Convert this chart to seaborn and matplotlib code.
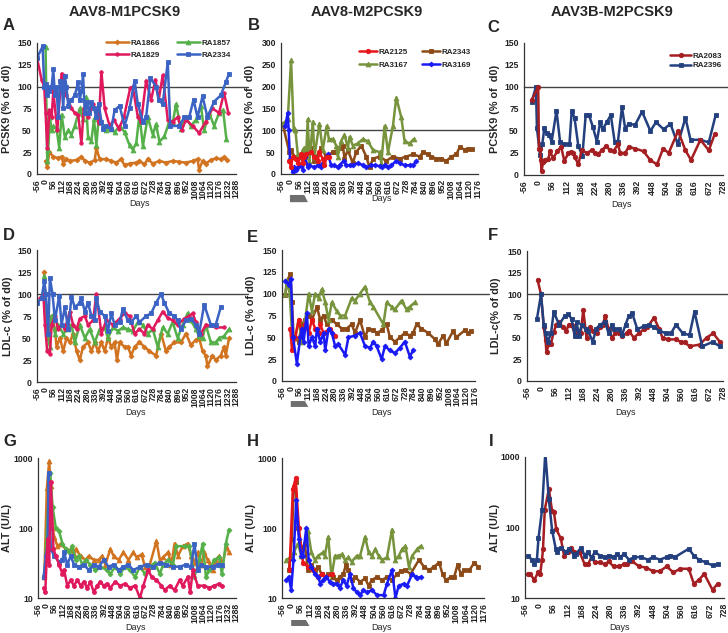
import numpy as np
import matplotlib
matplotlib.use('Agg')
import matplotlib.pyplot as plt
from matplotlib.patches import Polygon
from matplotlib.ticker import NullLocator
import seaborn as sns

# ---------------- Panel A: PCSK9 (% of d0), AAV8-M1PCSK9
a_days_1866 = [2, 13, 27, 54, 87, 110, 121, 143, 166, 211, 244, 267, 300, 334, 345, 367, 412, 446, 479, 513,
               535, 569, 614, 636, 670, 692, 726, 771, 815, 860, 905, 950, 995, 1028, 1039, 1062, 1084, 1118, 1151, 1185,
               1207, 1230]
a_vals_1866 = [15, 8, 25, 20, 18, 20, 12, 17, 15, 16, 20, 15, 13, 16, 30, 17, 17, 15, 13, 17,
               10, 12, 13, 15, 11, 17, 12, 15, 13, 15, 14, 13, 15, 17, 5, 15, 12, 16, 18, 17,
               19, 16]
a_days_1857 = [2, 13, 20, 31, 43, 54, 76, 94, 110, 132, 155, 177, 199, 233, 255, 273, 289, 311, 329, 345,
               361, 379, 412, 446, 468, 502, 535, 569, 591, 614, 636, 659, 692, 726, 748, 771, 804, 838, 860, 883,
               916, 950, 983, 1017, 1051, 1073, 1107, 1140, 1174, 1201, 1223]
a_vals_1857 = [145, 15, 28, 65, 50, 55, 52, 30, 68, 42, 50, 45, 55, 75, 63, 88, 42, 38, 63, 33,
               65, 60, 50, 52, 48, 55, 48, 33, 28, 35, 68, 32, 65, 45, 57, 37, 43, 60, 58, 80,
               52, 65, 55, 62, 78, 50, 70, 55, 70, 73, 40]
a_days_1829 = [-56, -25, -7, 2, 13, 27, 43, 54, 81, 110, 143, 177, 199, 222, 244, 260, 289, 323, 345, 361,
               379, 401, 435, 464, 497, 531, 573, 591, 625, 647, 681, 715, 744, 766, 793, 827, 860, 894, 921, 950,
               995, 1039, 1084, 1129, 1174, 1207, 1236]
a_vals_1829 = [133, 108, 100, 70, 30, 73, 65, 95, 50, 115, 90, 75, 70, 68, 35, 75, 65, 80, 70, 58,
               117, 75, 55, 62, 52, 65, 98, 100, 65, 60, 107, 85, 108, 85, 113, 62, 60, 65, 50, 62,
               55, 47, 60, 75, 70, 93, 70]
a_days_2334 = [-56, -18, -7, 2, 9, 16, 27, 43, 54, 65, 76, 87, 99, 110, 121, 132, 143, 155, 177, 199,
               222, 233, 244, 255, 267, 282, 296, 311, 329, 345, 361, 379, 390, 412, 446, 468, 502, 535, 569, 603,
               625, 659, 681, 710, 748, 766, 793, 827, 844, 905, 939, 972, 1001, 1028, 1062, 1095, 1140, 1185, 1219, 1241]
a_vals_2334 = [133, 146, 100, 103, 90, 100, 95, 100, 120, 90, 100, 65, 107, 105, 75, 112, 100, 78, 85, 90,
               105, 85, 95, 114, 70, 82, 70, 82, 75, 65, 80, 60, 52, 55, 52, 73, 78, 55, 75, 107,
               80, 60, 65, 110, 100, 85, 80, 128, 55, 55, 65, 65, 85, 65, 89, 65, 83, 90, 105, 115]

# ---------------- Panel B: PCSK9 (% of d0), AAV8-M2PCSK9
b_days_2125 = [-4, 7, 17, 38, 49, 69, 80, 90, 101, 132, 153, 174, 184, 205, 216, 230, 247]
b_vals_2125 = [30, 15, 40, 35, 25, 45, 25, 40, 45, 50, 40, 30, 50, 35, 20, 40, 40]
b_days_2343 = [-46, -4, 7, 28, 49, 90, 132, 153, 195, 226, 268, 289, 310, 331, 341, 362, 393, 414, 446, 477,
               498, 519, 561, 602, 644, 686, 728, 770, 811, 832, 864, 885, 916, 947, 978, 1010, 1041, 1062, 1094, 1115,
               1140]
b_vals_2343 = [115, 50, 55, 40, 40, 45, 60, 30, 60, 40, 50, 50, 60, 65, 35, 55, 25, 50, 65, 40,
               15, 35, 40, 30, 40, 35, 40, 45, 40, 50, 45, 40, 35, 35, 30, 40, 45, 62, 55, 58,
               57]
b_days_3167 = [-46, -14, 7, 23, 34, 49, 69, 80, 90, 101, 111, 122, 143, 153, 184, 205, 230, 243, 268, 289,
               299, 320, 341, 362, 373, 393, 425, 456, 487, 519, 561, 571, 592, 613, 644, 665, 696, 717, 749, 774]
b_vals_3167 = [115, 125, 260, 105, 100, 45, 40, 55, 60, 40, 125, 30, 120, 40, 115, 55, 110, 80, 80, 65,
               40, 75, 90, 60, 85, 65, 70, 80, 75, 55, 50, 25, 110, 50, 110, 175, 130, 75, 70, 80]
b_days_3169 = [-29, -14, -8, 0, 17, 23, 38, 49, 69, 80, 94, 111, 122, 153, 174, 184, 195, 205, 237, 258,
               278, 299, 310, 335, 352, 373, 393, 425, 456, 477, 508, 529, 561, 577, 592, 613, 634, 665, 686, 717,
               749, 770, 790]
b_vals_3169 = [110, 140, 100, 35, 5, 15, 10, 15, 20, 10, 40, 15, 20, 15, 20, 20, 15, 25, 45, 20,
               20, 15, 20, 30, 20, 20, 20, 25, 20, 15, 20, 20, 18, 15, 20, 15, 20, 30, 25, 20,
               20, 20, 30]

# ---------------- Panel C: PCSK9 (% of d0), AAV3B-M2PCSK9
c_days_2083 = [-26, 0, 3, 8, 10, 13, 20, 26, 40, 46, 59, 75, 90, 103, 119, 129, 138, 145, 158, 171,
               191, 211, 224, 237, 250, 268, 283, 297, 314, 323, 343, 356, 382, 415, 441, 468, 492, 514, 551, 580,
               602, 639, 672, 696]
c_vals_2083 = [85, 100, 30, 30, 17, 5, 15, 17, 18, 27, 19, 27, 32, 16, 25, 26, 25, 20, 12, 28,
               25, 28, 25, 24, 28, 33, 28, 27, 35, 25, 25, 32, 30, 27, 17, 12, 30, 25, 50, 28,
               17, 40, 28, 47]
c_days_2396 = [-26, -9, -5, 7, 16, 24, 33, 43, 53, 72, 86, 103, 123, 132, 143, 158, 174, 187, 200, 215,
               231, 244, 254, 270, 286, 301, 314, 330, 343, 356, 382, 409, 442, 464, 494, 521, 550, 580, 600, 639,
               672, 699]
c_vals_2396 = [83, 100, 53, 23, 35, 53, 48, 45, 38, 73, 38, 35, 35, 73, 65, 33, 22, 68, 68, 55,
               38, 60, 52, 60, 68, 38, 38, 77, 52, 58, 57, 72, 50, 60, 52, 58, 35, 65, 40, 40,
               37, 68]

# ---------------- Panel D: LDL-c (% of d0), AAV8-M1PCSK9
d_days_1866 = [-9, 4, 20, 43, 65, 76, 99, 121, 143, 166, 188, 211, 233, 255, 289, 311, 334, 356, 379, 401,
               423, 446, 468, 484, 502, 535, 558, 580, 603, 636, 670, 703, 748, 782, 815, 838, 871, 916, 950, 983,
               1017, 1039, 1062, 1084, 1095, 1129, 1151, 1185, 1207, 1219, 1241]
d_vals_1866 = [125, 85, 50, 75, 60, 40, 50, 35, 50, 45, 55, 35, 25, 40, 45, 35, 45, 35, 45, 35,
               50, 40, 45, 25, 45, 40, 40, 30, 40, 45, 40, 35, 30, 55, 35, 40, 45, 45, 55, 42,
               48, 50, 35, 30, 18, 30, 25, 30, 40, 30, 50]
d_days_1857 = [-7, 9, 31, 43, 65, 87, 121, 155, 177, 199, 233, 267, 300, 334, 367, 401, 423, 457, 491, 524,
               558, 591, 625, 659, 692, 726, 759, 793, 827, 860, 894, 927, 961, 983, 1017, 1039, 1062, 1084, 1118, 1151,
               1174, 1207, 1241]
d_vals_1857 = [120, 55, 40, 75, 55, 65, 55, 60, 65, 45, 65, 50, 60, 45, 60, 62, 50, 62, 58, 62,
               60, 58, 68, 65, 55, 60, 40, 62, 55, 68, 50, 65, 78, 70, 60, 52, 50, 65, 45, 45,
               50, 52, 60]
d_days_1829 = [-36, -13, -2, 13, 31, 43, 65, 87, 110, 132, 166, 188, 211, 233, 267, 289, 323, 345, 379, 412,
               457, 502, 535, 569, 603, 636, 670, 692, 726, 759, 793, 827, 860, 894, 939, 972, 995, 1017, 1051, 1084,
               1151, 1207]
d_vals_1829 = [95, 100, 65, 35, 32, 65, 75, 60, 65, 60, 80, 65, 60, 72, 75, 65, 70, 100, 55, 70,
               65, 72, 78, 75, 55, 60, 55, 65, 60, 70, 80, 73, 70, 65, 72, 75, 78, 68, 55, 65,
               62, 62]
d_days_2334 = [-56, -25, -7, 4, 20, 31, 49, 65, 94, 110, 132, 155, 177, 199, 233, 244, 267, 289, 311, 334,
               345, 367, 401, 423, 446, 468, 502, 524, 558, 580, 614, 636, 681, 715, 748, 782, 804, 838, 871, 894,
               916, 950, 983, 1017, 1039, 1073, 1118, 1151, 1185]
d_vals_2334 = [90, 95, 115, 100, 55, 118, 100, 70, 98, 65, 85, 60, 97, 85, 90, 95, 80, 90, 75, 70,
               95, 80, 75, 58, 78, 65, 68, 83, 70, 68, 75, 68, 75, 78, 90, 100, 90, 78, 75, 70,
               60, 70, 72, 65, 55, 88, 65, 65, 85]

# ---------------- Panel E: LDL-c (% of d0), AAV8-M2PCSK9
e_days_2125 = [-3, 8, 29, 50, 71, 92, 114, 135, 156, 177, 188, 209, 251, 283]
e_vals_2125 = [60, 35, 50, 70, 55, 65, 55, 70, 60, 55, 65, 55, 60, 52]
e_days_2343 = [-35, -24, -3, 8, 18, 50, 71, 92, 114, 135, 167, 188, 209, 230, 262, 294, 326, 357, 389, 410,
               442, 474, 495, 527, 548, 580, 612, 633, 665, 697, 728, 760, 781, 803, 834, 877, 919, 940, 972, 993,
               1036, 1057, 1110, 1130, 1150]
e_vals_2343 = [98, 115, 122, 90, 50, 45, 65, 70, 75, 70, 85, 70, 75, 65, 70, 65, 60, 60, 65, 55,
               70, 50, 60, 58, 55, 58, 65, 50, 45, 50, 55, 52, 55, 65, 60, 55, 48, 42, 52, 43,
               57, 50, 58, 55, 57]
e_days_3167 = [-35, -24, -7, 8, 29, 50, 71, 92, 114, 135, 156, 177, 198, 220, 241, 262, 294, 315, 347, 389,
               410, 442, 474, 506, 527, 591, 612, 644, 665, 707, 739, 760, 792]
e_vals_3167 = [100, 115, 100, 55, 50, 70, 45, 70, 100, 80, 100, 95, 105, 90, 70, 90, 80, 75, 75, 95,
               92, 100, 108, 90, 85, 65, 90, 85, 82, 92, 82, 85, 90]
e_days_3169 = [-35, -14, 1, 14, 39, 61, 71, 82, 103, 114, 135, 156, 167, 188, 209, 220, 241, 262, 283, 304,
               347, 368, 410, 442, 474, 506, 527, 548, 580, 601, 633, 665, 697, 728, 760, 781]
e_vals_3169 = [115, 110, 117, 50, 20, 50, 60, 45, 78, 40, 50, 40, 60, 45, 55, 35, 60, 55, 40, 42,
               30, 50, 52, 55, 40, 38, 45, 40, 25, 40, 35, 32, 38, 45, 28, 35]

# ---------------- Panel F: LDL-c (% of d0), AAV3B-M2PCSK9
f_days_2083 = [-14, 0, 11, 18, 22, 31, 40, 51, 61, 72, 88, 101, 111, 122, 135, 149, 159, 169, 182, 196,
               209, 223, 236, 247, 257, 270, 284, 297, 311, 324, 344, 351, 371, 392, 412, 425, 452, 473, 486, 506,
               540, 560, 574, 594, 635, 662, 689, 716]
f_vals_2083 = [117, 100, 62, 47, 33, 43, 43, 57, 65, 68, 62, 58, 65, 65, 55, 58, 55, 82, 50, 62,
               58, 55, 62, 65, 75, 60, 50, 55, 55, 52, 55, 58, 50, 55, 60, 62, 73, 60, 50, 48,
               48, 45, 45, 40, 42, 50, 55, 45]
f_days_2396 = [-16, 0, 11, 18, 27, 40, 51, 72, 95, 108, 122, 135, 142, 153, 162, 178, 189, 207, 220, 236,
               257, 270, 284, 290, 311, 324, 338, 351, 365, 385, 412, 432, 452, 473, 500, 520, 540, 567, 594, 614,
               645, 686, 716]
f_vals_2396 = [72, 100, 65, 55, 45, 55, 80, 65, 75, 77, 72, 52, 68, 52, 65, 60, 58, 45, 60, 65,
               68, 55, 65, 60, 60, 53, 65, 75, 78, 60, 63, 65, 62, 58, 55, 55, 65, 55, 53, 80,
               40, 45, 40]

# ---------------- Panel G: ALT (U/L), AAV8-M1PCSK9
g_days_1866 = [-13, 4, 20, 31, 43, 54, 76, 99, 132, 166, 188, 199, 233, 267, 289, 323, 356, 379, 401, 435,
               457, 491, 524, 558, 591, 614, 647, 670, 703, 748, 771, 793, 827, 849, 871, 894, 927, 961, 983, 1006,
               1028, 1051, 1073, 1095, 1129, 1151, 1174, 1196, 1223, 1241]
g_vals_1866 = [20, 370, 900, 400, 100, 75, 55, 60, 50, 48, 42, 50, 40, 35, 40, 35, 35, 40, 30, 50,
               40, 35, 45, 35, 45, 38, 42, 28, 30, 65, 35, 38, 45, 30, 60, 40, 55, 60, 40, 32,
               45, 30, 45, 35, 25, 35, 40, 30, 55, 45]
g_days_1857 = [-13, 9, 27, 43, 65, 87, 110, 132, 155, 177, 199, 222, 244, 267, 300, 334, 367, 412, 435, 468,
               502, 535, 569, 603, 636, 670, 703, 737, 771, 793, 827, 860, 883, 939, 972, 1006, 1039, 1062, 1084, 1107,
               1140, 1174, 1192, 1219, 1241]
g_vals_1857 = [20, 140, 620, 200, 100, 90, 60, 50, 45, 55, 35, 40, 30, 35, 30, 25, 28, 25, 22, 28,
               22, 28, 25, 20, 28, 22, 28, 32, 22, 30, 35, 30, 55, 55, 55, 20, 35, 60, 20, 25,
               35, 38, 22, 60, 95]
g_days_1829 = [-18, -7, 9, 20, 31, 49, 65, 87, 110, 121, 143, 166, 188, 211, 233, 255, 278, 300, 323, 345,
               367, 390, 412, 435, 468, 502, 535, 569, 603, 636, 659, 692, 715, 748, 782, 804, 838, 871, 905, 927,
               961, 977, 995, 1028, 1073, 1107, 1140, 1174, 1192]
g_vals_1829 = [14, 12, 70, 30, 450, 50, 40, 30, 22, 25, 15, 18, 15, 18, 15, 17, 14, 17, 12, 15,
               17, 15, 16, 14, 17, 15, 16, 14, 15, 10, 15, 25, 20, 18, 15, 13, 15, 13, 18, 15,
               20, 12, 25, 15, 15, 14, 15, 16, 15]
g_days_2334 = [-18, -2, 9, 16, 27, 31, 54, 87, 110, 121, 143, 166, 188, 222, 255, 289, 323, 356, 390, 423,
               457, 491, 524, 558, 591, 636, 681, 726, 771, 815, 860, 905, 950, 983, 1006, 1028, 1051, 1084, 1129, 1163,
               1192]
g_vals_2334 = [20, 40, 60, 620, 100, 50, 40, 33, 35, 45, 30, 40, 30, 28, 30, 25, 30, 28, 35, 28,
               30, 25, 28, 30, 25, 28, 30, 28, 32, 30, 28, 28, 30, 28, 60, 25, 30, 28, 28, 30,
               30]

# ---------------- Panel H: ALT (U/L), AAV8-M2PCSK9
h_days_2125 = [-10, 10, 27, 47, 72, 103, 133, 164, 185, 215, 246]
h_vals_2125 = [25, 360, 510, 100, 32, 28, 25, 20, 22, 20, 22]
h_days_2343 = [-14, 4, 16, 27, 41, 62, 82, 103, 123, 144, 164, 185, 205, 226, 256, 277, 297, 318, 334, 349,
               369, 390, 420, 451, 472, 492, 523, 554, 584, 615, 646, 667, 697, 728, 779, 810, 841, 871, 902, 923,
               943, 974, 994, 1015, 1035, 1056, 1087, 1117, 1138]
h_vals_2343 = [25, 70, 380, 450, 100, 50, 60, 25, 30, 25, 28, 22, 20, 22, 20, 18, 20, 22, 30, 25,
               18, 20, 17, 19, 15, 18, 20, 18, 20, 18, 22, 24, 25, 22, 35, 28, 25, 28, 32, 22,
               18, 20, 20, 30, 22, 25, 25, 32, 28]
h_days_3167 = [-31, 0, 16, 41, 62, 82, 103, 123, 144, 164, 195, 205, 226, 246, 267, 287, 308, 328, 349, 369,
               400, 420, 451, 472, 492, 513, 533, 554, 584, 615, 636, 656, 677, 697, 718, 738, 769, 789]
h_vals_3167 = [35, 38, 45, 60, 40, 60, 90, 45, 35, 40, 45, 40, 75, 20, 40, 40, 42, 35, 38, 33,
               40, 40, 75, 45, 40, 50, 40, 35, 38, 95, 35, 40, 50, 55, 28, 40, 50, 55]
h_days_3169 = [-31, -14, 0, 14, 31, 47, 62, 72, 92, 107, 123, 144, 164, 178, 195, 215, 236, 256, 277, 297,
               318, 338, 359, 379, 400, 420, 441, 461, 492, 523, 564, 584, 615, 636, 656, 687, 707, 738, 759, 769,
               789]
h_vals_3169 = [18, 20, 13, 35, 250, 70, 40, 40, 100, 35, 28, 22, 20, 16, 18, 20, 17, 16, 16, 14,
               18, 15, 22, 14, 12, 11, 13, 12, 13, 11, 11, 16, 25, 10, 15, 16, 15, 22, 20, 19,
               20]

# ---------------- Panel I: ALT (U/L), AAV3B-M2PCSK9
i_days_2083 = [-43, -36, -19, -5, 4, 11, 15, 22, 38, 51, 58, 67, 85, 98, 112, 125, 139, 159, 179, 192,
               206, 219, 239, 260, 273, 293, 313, 334, 347, 367, 394, 421, 448, 475, 502, 529, 555, 589, 609, 629,
               650, 683, 703]
i_vals_2083 = [22, 22, 18, 23, 22, 35, 50, 180, 350, 170, 165, 95, 70, 40, 45, 52, 45, 45, 30, 30,
               38, 32, 32, 30, 33, 28, 28, 30, 30, 33, 28, 27, 24, 24, 28, 23, 26, 26, 16, 18,
               22, 13, 16]
i_days_2396 = [-43, -30, -19, -9, -3, 11, 24, 38, 51, 65, 71, 85, 105, 118, 139, 145, 165, 179, 192, 206,
               219, 239, 260, 273, 293, 307, 320, 334, 354, 374, 401, 428, 448, 475, 502, 515, 535, 589, 609, 629,
               656, 683, 703]
i_vals_2396 = [40, 35, 30, 35, 70, 175, 1150, 250, 90, 50, 45, 52, 45, 50, 40, 42, 52, 40, 45, 37,
               45, 40, 38, 40, 38, 42, 38, 42, 35, 38, 38, 35, 38, 35, 38, 40, 38, 50, 40, 35,
               32, 29, 30]

W, H = 728, 633


def px_rect(left, top, right, bottom):
    """Axes rectangle from pixel edges (origin top-left)."""
    return [left / W, 1 - bottom / H, (right - left) / W, (bottom - top) / H]


def draw_series(ax, days, vals, color, marker, ms, label):
    sns.lineplot(x=days, y=vals, ax=ax, color=color, marker=marker, markersize=ms,
                 markeredgecolor=color, markeredgewidth=0.6, linewidth=1.8,
                 estimator=None, errorbar=None, legend=False)
    line = ax.lines[-1]
    line.set_label(label)
    return line


def style_axis(fig, ax, xmax, ylabel, ylabel_px, xlabel_px, log=False, ymax=150, ystep=25):
    ax.set_xlim(-56, xmax)
    ticks = np.arange(-56, xmax + 1, 56)
    ax.set_xticks(ticks)
    ax.set_xticklabels([str(t) for t in ticks], rotation=90)
    if log:
        ax.set_yscale('log')
        ax.set_ylim(10, 1000)
        ax.set_yticks([10, 100, 1000])
        ax.set_yticklabels(['10', '100', '1000'])
        ax.yaxis.set_minor_locator(NullLocator())
    else:
        ax.set_ylim(0, ymax)
        ax.set_yticks(np.arange(0, ymax + 1, ystep))
    ax.tick_params(labelsize=6.2, width=0.8, length=2.5, pad=1.2, colors='#222222')
    for lab in ax.get_xticklabels() + ax.get_yticklabels():
        lab.set_fontweight('bold')
    for s in ['left', 'bottom']:
        ax.spines[s].set_color('#333333')
        ax.spines[s].set_linewidth(0.9)
    sns.despine(ax=ax)
    ax.set_ylabel(ylabel, fontsize=7.8, fontweight='bold')
    bbox = ax.get_position()
    ax.yaxis.set_label_coords(ylabel_px / W, bbox.y0 + bbox.height / 2, transform=fig.transFigure)
    ax.set_xlabel('Days', fontsize=6.5)
    ax.xaxis.set_label_coords(xlabel_px[0] / W, 1 - xlabel_px[1] / H, transform=fig.transFigure)


def ref_line(ax, extra):
    ax.axhline(100, xmin=0, xmax=1 + extra, color='#444444', linewidth=1.0, clip_on=False, zorder=1)


def dosing_bar(ax, y_top, y_bot):
    poly = Polygon([(0, y_top), (90, y_top), (112, y_bot), (0, y_bot)], closed=True,
                   transform=ax.get_xaxis_transform(), clip_on=False, facecolor='#6e6e6e',
                   edgecolor='none')
    ax.add_patch(poly)


def add_legend(fig, handles, ncol, left_px, top_px, handlelength, colspacing, labelspacing):
    fig.legend(handles=handles, ncol=ncol, loc='upper left',
               bbox_to_anchor=(left_px / W, 1 - top_px / H), frameon=False, borderpad=0,
               handlelength=handlelength, handletextpad=0.25, columnspacing=colspacing,
               labelspacing=labelspacing, prop={'size': 5.8, 'weight': 'bold'})


def main():
    sns.set_style('white')
    plt.rcParams['font.family'] = ['Liberation Sans', 'DejaVu Sans']
    fig = plt.figure(figsize=(W / 100, H / 100), dpi=100)

    c1866, c1857, c1829, c2334 = '#D2731F', '#55B04A', '#E0195E', '#3B63C4'
    c2125, c2343, c3167, c3169 = '#E8161B', '#8B4A17', '#77933C', '#1A1AF5'
    c2083, c2396 = '#A41E22', '#233F7E'

    pcsk9_lab = 'PCSK9 (% of  d0)'

    # ---- Column 1: AAV8-M1PCSK9
    ax = fig.add_axes(px_rect(37, 43, 236, 174))
    ref_line(ax, 0.06)
    h1 = draw_series(ax, a_days_1866, a_vals_1866, c1866, 'D', 2.5, 'RA1866')
    h2 = draw_series(ax, a_days_1857, a_vals_1857, c1857, '^', 3.5, 'RA1857')
    h3 = draw_series(ax, a_days_1829, a_vals_1829, c1829, 'o', 2.5, 'RA1829')
    h4 = draw_series(ax, a_days_2334, a_vals_2334, c2334, 's', 2.8, 'RA2334')
    style_axis(fig, ax, 1288, pcsk9_lab, 12, (139, 199))
    add_legend(fig, [h1, h3, h2, h4], 2, 102, 35, 2.8, 2.1, 0.55)

    ax = fig.add_axes(px_rect(37, 250, 236, 382))
    ref_line(ax, 0.06)
    draw_series(ax, d_days_1866, d_vals_1866, c1866, 'D', 2.5, 'RA1866')
    draw_series(ax, d_days_1857, d_vals_1857, c1857, '^', 3.5, 'RA1857')
    draw_series(ax, d_days_1829, d_vals_1829, c1829, 'o', 2.5, 'RA1829')
    draw_series(ax, d_days_2334, d_vals_2334, c2334, 's', 2.8, 'RA2334')
    style_axis(fig, ax, 1288, 'LDL-c (% of d0)', 13, (136, 408))

    ax = fig.add_axes(px_rect(38, 458, 236, 598))
    draw_series(ax, g_days_1866, g_vals_1866, c1866, '^', 3.5, 'RA1866')
    draw_series(ax, g_days_1857, g_vals_1857, c1857, 'D', 2.5, 'RA1857')
    draw_series(ax, g_days_2334, g_vals_2334, c2334, 's', 2.8, 'RA2334')
    draw_series(ax, g_days_1829, g_vals_1829, c1829, 'o', 2.8, 'RA1829')
    style_axis(fig, ax, 1288, 'ALT (U/L)', 12, (135, 623), log=True)

    # ---- Column 2: AAV8-M2PCSK9
    ax = fig.add_axes(px_rect(281, 43, 478, 174))
    ref_line(ax, 0.06)
    k1 = draw_series(ax, b_days_2343, b_vals_2343, c2343, 's', 2.5, 'RA2343')
    k2 = draw_series(ax, b_days_3167, b_vals_3167, c3167, '^', 3.5, 'RA3167')
    k3 = draw_series(ax, b_days_3169, b_vals_3169, c3169, 'D', 2.5, 'RA3169')
    k4 = draw_series(ax, b_days_2125, b_vals_2125, c2125, 'o', 3.2, 'RA2125')
    style_axis(fig, ax, 1176, pcsk9_lab, 255, (382, 194), ymax=300, ystep=50)
    dosing_bar(ax, -0.16, -0.215)
    add_legend(fig, [k4, k2, k1, k3], 2, 355, 44, 2.2, 1.7, 0.7)

    ax = fig.add_axes(px_rect(282, 250, 475, 381))
    ref_line(ax, 0.07)
    draw_series(ax, e_days_2343, e_vals_2343, c2343, 's', 2.5, 'RA2343')
    draw_series(ax, e_days_3167, e_vals_3167, c3167, '^', 3.5, 'RA3167')
    draw_series(ax, e_days_2125, e_vals_2125, c2125, 'o', 3.2, 'RA2125')
    draw_series(ax, e_days_3169, e_vals_3169, c3169, 'D', 2.5, 'RA3169')
    style_axis(fig, ax, 1176, 'LDL-c (% of d0)', 256, (381, 408))
    dosing_bar(ax, -0.153, -0.198)

    ax = fig.add_axes(px_rect(282, 458, 484, 598))
    draw_series(ax, h_days_3167, h_vals_3167, c3167, '^', 3.5, 'RA3167')
    draw_series(ax, h_days_2343, h_vals_2343, c2343, 's', 2.5, 'RA2343')
    draw_series(ax, h_days_2125, h_vals_2125, c2125, 'o', 3.2, 'RA2125')
    draw_series(ax, h_days_3169, h_vals_3169, c3169, 'D', 2.5, 'RA3169')
    style_axis(fig, ax, 1176, 'ALT (U/L)', 256, (381, 623), log=True)
    dosing_bar(ax, -0.157, -0.2)

    # ---- Column 3: AAV3B-M2PCSK9
    ax = fig.add_axes(px_rect(524, 43, 723, 175))
    ref_line(ax, 0.03)
    m1 = draw_series(ax, c_days_2396, c_vals_2396, c2396, 's', 2.2, 'RA2396')
    m2 = draw_series(ax, c_days_2083, c_vals_2083, c2083, 'o', 3.2, 'RA2083')
    style_axis(fig, ax, 728, pcsk9_lab, 500, (622, 200))
    add_legend(fig, [m2, m1], 1, 666, 48, 2.6, 1.0, 0.25)

    ax = fig.add_axes(px_rect(527, 251, 723, 381))
    ref_line(ax, 0.03)
    draw_series(ax, f_days_2083, f_vals_2083, c2083, 'o', 3.2, 'RA2083')
    draw_series(ax, f_days_2396, f_vals_2396, c2396, 's', 2.2, 'RA2396')
    style_axis(fig, ax, 728, 'LDL-c(% of d0)', 501, (625, 408))

    ax = fig.add_axes(px_rect(525, 457, 724, 598))
    draw_series(ax, i_days_2083, i_vals_2083, c2083, 'o', 3.2, 'RA2083')
    draw_series(ax, i_days_2396, i_vals_2396, c2396, 's', 2.2, 'RA2396')
    style_axis(fig, ax, 728, 'ALT (U/L)', 500, (620, 623), log=True)

    # column titles and panel letters
    for x, t in [(125, 'AAV8-M1PCSK9'), (367, 'AAV8-M2PCSK9'), (612, 'AAV3B-M2PCSK9')]:
        fig.text(x / W, 1 - 12 / H, t, ha='center', va='center', fontsize=10.5, fontweight='bold')
    letters = [('A', 3, 25), ('B', 248, 25), ('C', 487, 27),
               ('D', 3, 236), ('E', 247, 238), ('F', 488, 236),
               ('G', 3, 442), ('H', 247, 442), ('I', 489, 442)]
    for letter, x, y in letters:
        fig.text(x / W, 1 - y / H, letter, ha='left', va='center', fontsize=12, fontweight='bold')

    fig.savefig('out.png', dpi=100)


if __name__ == "__main__":
    main()
